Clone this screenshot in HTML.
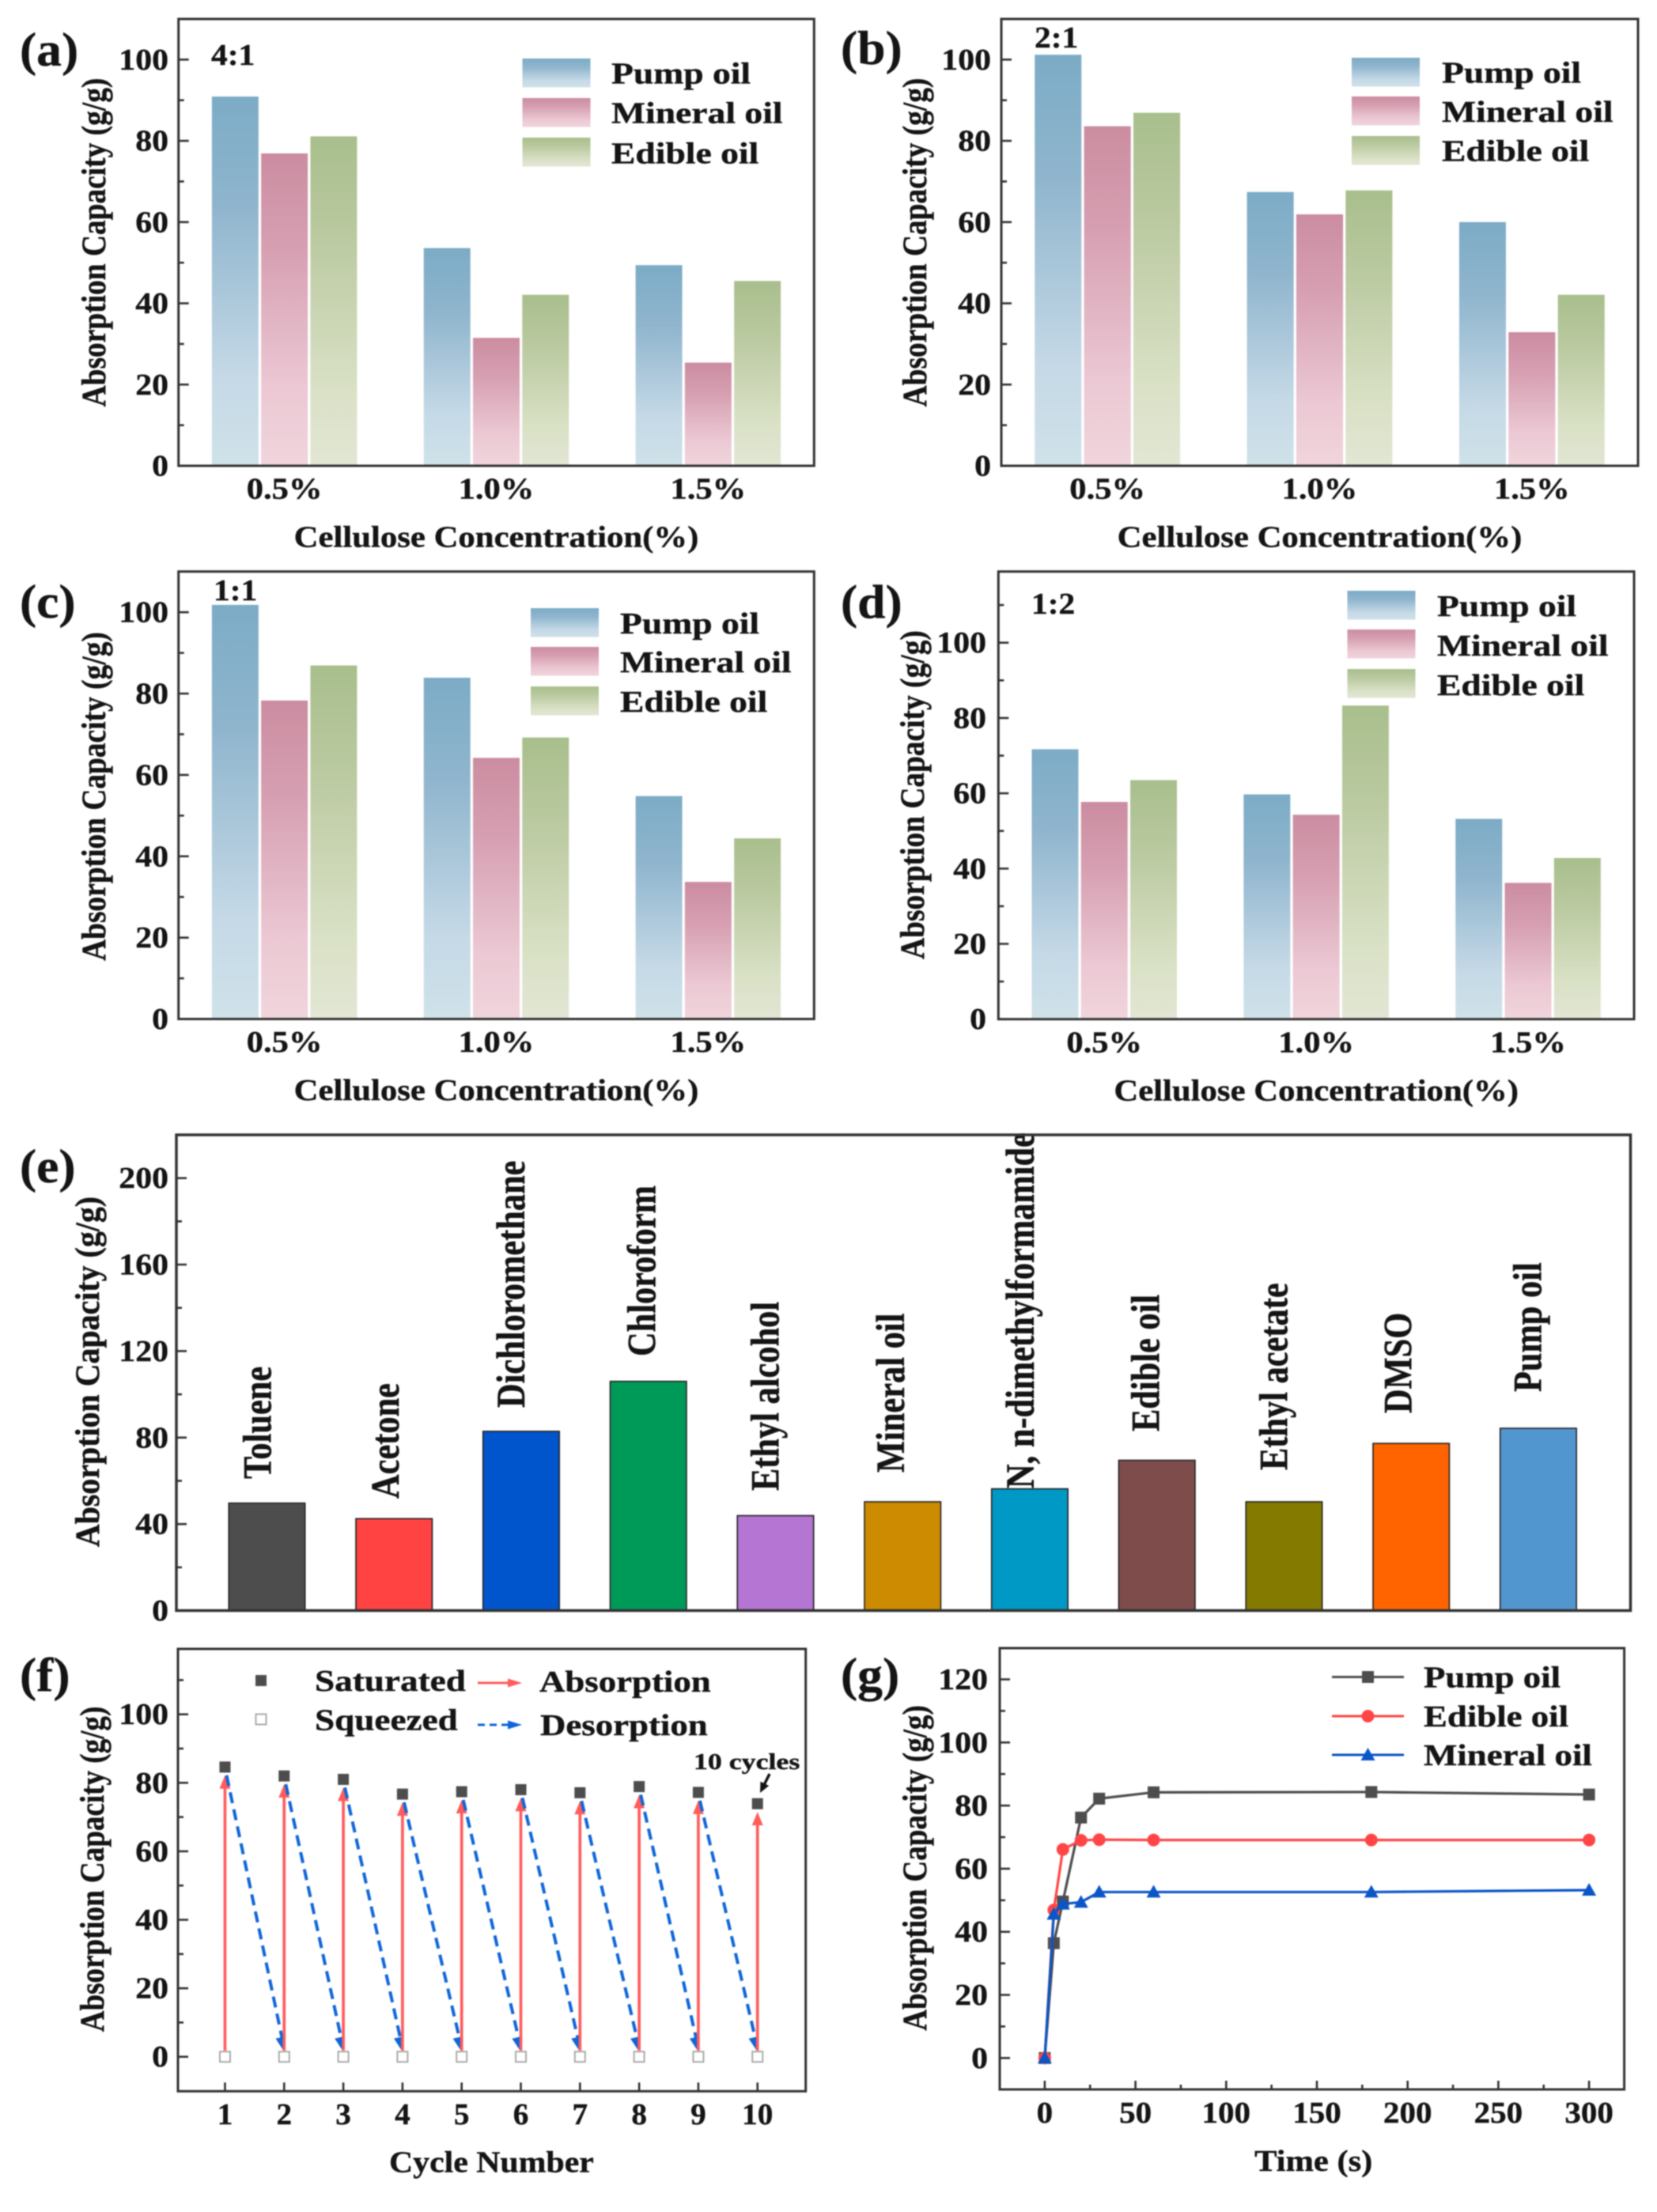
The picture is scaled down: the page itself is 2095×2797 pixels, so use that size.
<!DOCTYPE html>
<html lang="en">
<head>
<meta charset="utf-8">
<title>Absorption capacity charts</title>
<style>
html,body{margin:0;padding:0;background:#fff;}
svg{display:block;}
text{font-family:"Liberation Serif",serif;font-weight:bold;fill:#141414;stroke:#141414;stroke-width:0.4px;}
</style>
</head>
<body>
<svg id="figure" xmlns="http://www.w3.org/2000/svg" width="2095" height="2797" viewBox="0 0 2095 2797" style="filter:blur(0.7px)">
<defs>
<linearGradient id="grad-pump" x1="0" y1="0" x2="0" y2="1"><stop offset="0" stop-color="#7CABC6"/><stop offset="0.3" stop-color="#8FB5CD"/><stop offset="0.75" stop-color="#C4D8E6"/><stop offset="1" stop-color="#CFE2E9"/></linearGradient>
<linearGradient id="grad-mineral" x1="0" y1="0" x2="0" y2="1"><stop offset="0" stop-color="#CB8CA0"/><stop offset="0.3" stop-color="#D69FB1"/><stop offset="0.75" stop-color="#EBC8D3"/><stop offset="1" stop-color="#F0D4DC"/></linearGradient>
<linearGradient id="grad-edible" x1="0" y1="0" x2="0" y2="1"><stop offset="0" stop-color="#A8BE8C"/><stop offset="0.3" stop-color="#BAC9A0"/><stop offset="0.75" stop-color="#D8E0C4"/><stop offset="1" stop-color="#E2E6D4"/></linearGradient>
</defs>
</svg>
<script>
// ---------- chart data ----------
const concentrations = ['0.5%', '1.0%', '1.5%'];
const oilNames = ['Pump oil', 'Mineral oil', 'Edible oil'];
const barTicks = [0, 20, 40, 60, 80, 100];
const barMinorTicks = [10, 30, 50, 70, 90];
const barMinorTicksD = [10, 30, 50, 70, 90, 110];

const panelAPump = [90.9, 53.6, 49.4];
const panelAMineral = [76.9, 31.5, 25.4];
const panelAEdible = [81.1, 42.1, 45.5];

const panelBPump = [101.2, 67.4, 60.0];
const panelBMineral = [83.6, 61.9, 32.9];
const panelBEdible = [86.9, 67.8, 42.1];

const panelCPump = [101.8, 83.9, 54.8];
const panelCMineral = [78.3, 64.2, 33.7];
const panelCEdible = [86.9, 69.2, 44.4];

const panelDPump = [71.7, 59.7, 53.2];
const panelDMineral = [57.7, 54.3, 36.2];
const panelDEdible = [63.5, 83.3, 42.8];

const solvents = ['Toluene', 'Acetone', 'Dichloromethane', 'Chloroform', 'Ethyl alcohol', 'Mineral oil', 'N, n-dimethylformamide', 'Edible oil', 'Ethyl acetate', 'DMSO', 'Pump oil'];
const solventValues = [49.7, 42.5, 82.9, 106, 43.9, 50.3, 56.3, 69.5, 50.3, 77.3, 84.3];
const solventColors = ['#4d4d4d', '#ff4343', '#0055cc', '#009a58', '#b476d2', '#cc8b00', '#0098c4', '#7f4c4c', '#857a00', '#ff6400', '#5296d0'];
const solventTicks = [0, 40, 80, 120, 160, 200];
const solventMinorTicks = [20, 60, 100, 140, 180];

const cycleNumbers = [1, 2, 3, 4, 5, 6, 7, 8, 9, 10];
const saturatedValues = [84.6, 82, 81, 76.7, 77.4, 78, 77.1, 78.9, 77.2, 73.9];
const squeezedValues = [0, 0, 0, 0, 0, 0, 0, 0, 0, 0];
const cycleYTicks = [0, 20, 40, 60, 80, 100];
const cycleYMinorTicks = [10, 30, 50, 70, 90, 110];

const timeValues = [0, 5, 10, 20, 30, 60, 180, 300];
const timePump = [0, 36.4, 49.6, 76.2, 82.2, 84.2, 84.3, 83.5];
const timeEdible = [0, 46.9, 66.1, 69, 69.2, 69.1, 69.1, 69.1];
const timeMineral = [0, 45.6, 48.8, 49.4, 52.6, 52.6, 52.6, 53.2];
const timeXTicks = [0, 50, 100, 150, 200, 250, 300];
const timeXMinorTicks = [25, 75, 125, 175, 225, 275];
const timeYTicks = [0, 20, 40, 60, 80, 100, 120];
const timeYMinorTicks = [10, 30, 50, 70, 90, 110];

// ---------- helpers ----------
const NS = 'http://www.w3.org/2000/svg';
const figure = document.getElementById('figure');

function linear(d0, d1, r0, r1) {
  return function (v) { return r0 + (v - d0) * (r1 - r0) / (d1 - d0); };
}
function make(parent, tag, props) {
  const el = document.createElementNS(NS, tag);
  for (const k in props) el.setAttribute(k, props[k]);
  parent.appendChild(el);
  return el;
}
function panelGroup(name) {
  const g = make(figure, 'g', {});
  
  
  return g;
}
function label(parent, name, str, x, y, size, sx, sy, anchor, rot) {
  const t = make(parent, 'text', {
    'font-size': size,
    'text-anchor': anchor || 'start',
    transform: 'translate(' + x + ',' + y + ') rotate(' + (rot || 0) + ') scale(' + sx + ',' + sy + ')'
  });
  t.textContent = str;
  
  
  return t;
}
function tickLine(parent, name, x1, y1, x2, y2) {
  const l = make(parent, 'line', { x1: x1, y1: y1, x2: x2, y2: y2, stroke: '#333', 'stroke-width': 2.6 });
  
  
}
function frame(parent, g) {
  const r = make(parent, 'rect', { x: g.L, y: g.T, width: g.R - g.L, height: g.B - g.T, fill: 'none', stroke: '#333', 'stroke-width': 3 });
  
  
}
function yAxis(parent, g, y, ticks, minor, labelRight) {
  ticks.forEach(function (v) {
    tickLine(parent, 'y-tick-' + v, g.L, y(v), g.L + 13, y(v));
    label(parent, 'y-tick-label-' + v, String(v), labelRight, y(v) + 12.5, 38, 1.1, 1, 'end');
  });
  minor.forEach(function (v) {
    tickLine(parent, 'y-minor-tick-' + v, g.L, y(v), g.L + 7, y(v));
  });
}
function drawBarPanel(p) {
  const root = panelGroup(p.name);
  const g = p.geom;
  const x = linear(-0.5, 2.5, g.L, g.R);
  const y = linear(0, p.ymax, g.B, g.T);
  const band = x(1) - x(0);
  const series = [p.pump, p.mineral, p.edible];
  const grads = ['url(#grad-pump)', 'url(#grad-mineral)', 'url(#grad-edible)'];
  const keys = ['pump', 'mineral', 'edible'];
  series.forEach(function (vals, s) {
    vals.forEach(function (v, i) {
      const w = band * 0.22;
      const cx = x(i) + (s - 1) * band * 0.2325;
      const bar = make(root, 'rect', { x: cx - w / 2, y: y(v), width: w, height: y(0) - y(v), fill: grads[s] });
      
      
    });
  });
  frame(root, g);
  yAxis(root, g, y, barTicks, p.minor, p.tickRight);
  concentrations.forEach(function (c, i) {
    label(root, 'x-tick-label-' + c, c, x(i), g.B + 41.7, 38, 1.12, 1, 'middle');
  });
  label(root, 'x-axis-title', 'Cellulose Concentration(%)', x(1), g.B + 102.7, 38, 1.125, 1, 'middle');
  label(root, 'y-axis-title', 'Absorption Capacity (g/g)', p.yTitleX, p.yTitleY, 38, 0.985, 1.15, 'middle', -90);
  label(root, 'panel-letter', p.letter, p.letterX, p.letterY, 60, 1.06, 1);
  label(root, 'ratio-label', p.ratio, p.ratioX, p.ratioY, 38, 1.09, 1);
  p.legend.swatchY.forEach(function (sy, i) {
    const sw = make(root, 'rect', { x: p.legend.x, y: sy, width: 86, height: 36.5, fill: grads[i] });
    
    
    label(root, 'legend-label-' + keys[i], oilNames[i], p.legend.textX, p.legend.baseY[i], 38, 1.2, 1);
  });
}

// ---------- panels a-d ----------
drawBarPanel({
  name: 'panel-a', letter: '(a)', ratio: '4:1', pump: panelAPump, mineral: panelAMineral, edible: panelAEdible,
  ymax: 110, minor: barMinorTicks, geom: { L: 225.7, R: 1029.3, T: 24, B: 589 }, tickRight: 213,
  yTitleX: 133, yTitleY: 306.5, letterX: 25, letterY: 83, ratioX: 267, ratioY: 82,
  legend: { x: 660.5, textX: 773, swatchY: [74, 124, 174], baseY: [105.5, 155.5, 206.5] }
});
drawBarPanel({
  name: 'panel-b', letter: '(b)', ratio: '2:1', pump: panelBPump, mineral: panelBMineral, edible: panelBEdible,
  ymax: 110, minor: barMinorTicks, geom: { L: 1266, R: 2071, T: 24, B: 589 }, tickRight: 1253,
  yTitleX: 1171, yTitleY: 306.5, letterX: 1063, letterY: 81, ratioX: 1308, ratioY: 60,
  legend: { x: 1709, textX: 1823, swatchY: [73, 122, 172], baseY: [104.5, 154, 203.5] }
});
drawBarPanel({
  name: 'panel-c', letter: '(c)', ratio: '1:1', pump: panelCPump, mineral: panelCMineral, edible: panelCEdible,
  ymax: 110, minor: barMinorTicks, geom: { L: 225.7, R: 1029.3, T: 722.7, B: 1288.5 }, tickRight: 213,
  yTitleX: 133, yTitleY: 1007, letterX: 25, letterY: 781, ratioX: 270, ratioY: 759,
  legend: { x: 671, textX: 784, swatchY: [769, 818, 868], baseY: [801, 850, 900] }
});
drawBarPanel({
  name: 'panel-d', letter: '(d)', ratio: '1:2', pump: panelDPump, mineral: panelDMineral, edible: panelDEdible,
  ymax: 118.9, minor: barMinorTicksD, geom: { L: 1262.3, R: 2066, T: 722.7, B: 1288.7 }, tickRight: 1247,
  yTitleX: 1168, yTitleY: 1005, letterX: 1063, letterY: 781.7, ratioX: 1304, ratioY: 776,
  legend: { x: 1703.5, textX: 1817, swatchY: [747, 796, 846], baseY: [779, 829, 879] }
});

// ---------- panel e ----------
(function () {
  const root = panelGroup('panel-e');
  const g = { L: 223, R: 2061.5, T: 1435, B: 2036.5 };
  const x = linear(-0.712, 10.725, g.L, g.R);
  const y = linear(0, 220, g.B, g.T);
  const w = (x(1) - x(0)) * 0.6;
  const labelShift = [5, 6, 4, 9, 4, 2, 5, 3, 4, 0.5, 3.5];
  const labelStart = [1870, 1895, 1780, 1715, 1885, 1862, 1882, 1810, 1859, 1787, 1760];
  solventValues.forEach(function (v, i) {
    const bar = make(root, 'rect', { x: x(i) - w / 2, y: y(v), width: w, height: y(0) - y(v), fill: solventColors[i], stroke: '#222', 'stroke-width': 1.6 });
    
    
    label(root, 'bar-label-' + solvents[i].toLowerCase().replace(/[^a-z]+/g, '-'), solvents[i], x(i) + labelShift[i], labelStart[i], 42, 1.01, 1.22, 'start', -90);
  });
  const fr = make(root, 'rect', { x: g.L, y: g.T, width: g.R - g.L, height: g.B - g.T, fill: 'none', stroke: '#333', 'stroke-width': 3.5 });
  
  
  yAxis(root, g, y, solventTicks, solventMinorTicks, 213);
  label(root, 'y-axis-title', 'Absorption Capacity (g/g)', 125, 1734.5, 38, 1.05, 1.15, 'middle', -90);
  label(root, 'panel-letter', '(e)', 25, 1495, 60, 1.06, 1);
})();

// ---------- panel f ----------
function arrowHead(parent, name, x1, y1, x2, y2, color, len, half) {
  const d = Math.hypot(x2 - x1, y2 - y1);
  const ux = (x2 - x1) / d;
  const uy = (y2 - y1) / d;
  const bx = x2 - ux * len;
  const by = y2 - uy * len;
  const pts = [x2 + ',' + y2, (bx - uy * half) + ',' + (by + ux * half), (bx + uy * half) + ',' + (by - ux * half)].join(' ');
  const h = make(parent, 'polygon', { points: pts, fill: color });
  
  
}
(function () {
  const root = panelGroup('panel-f');
  const g = { L: 225, R: 1018.7, T: 2085, B: 2644.3 };
  const x = linear(0.205, 10.815, g.L, g.R);
  const y = linear(-10.07, 119.1, g.B, g.T);
  const red = '#ff5c5c';
  const blue = '#0f66d8';
  cycleNumbers.forEach(function (c, i) {
    const tipY = y(saturatedValues[i] - 2.4);
    const up = make(root, 'line', { x1: x(c), y1: y(1.8), x2: x(c), y2: tipY + 8, stroke: red, 'stroke-width': 3.7 });
    
    
    arrowHead(root, 'absorption-arrowhead-' + c, x(c), y(1.8), x(c), tipY, red, 17, 7);
    if (i < cycleNumbers.length - 1) {
      const sx = x(c) + 2;
      const sy = tipY;
      const ex = x(cycleNumbers[i + 1]) - 1;
      const ey = y(1.8);
      const down = make(root, 'line', { x1: sx, y1: sy, x2: ex, y2: ey - 8, stroke: blue, 'stroke-width': 4, 'stroke-dasharray': '14 8' });
      
      
      arrowHead(root, 'desorption-arrowhead-' + c, sx, sy, ex, ey, blue, 17, 6.5);
    }
  });
  saturatedValues.forEach(function (v, i) {
    const m = make(root, 'rect', { x: x(cycleNumbers[i]) - 7, y: y(v) - 7, width: 14, height: 14, fill: '#4d4d4d' });
    
    
  });
  squeezedValues.forEach(function (v, i) {
    const m = make(root, 'rect', { x: x(cycleNumbers[i]) - 6.5, y: y(v) - 6.5, width: 13, height: 13, fill: '#fff', stroke: '#aaa', 'stroke-width': 2 });
    
    
  });
  frame(root, g);
  yAxis(root, g, y, cycleYTicks, cycleYMinorTicks, 213);
  cycleNumbers.forEach(function (c) {
    tickLine(root, 'x-tick-' + c, x(c), g.B, x(c), g.B - 11);
    label(root, 'x-tick-label-' + c, String(c), x(c), 2686, 38, 1.03, 1, 'middle');
  });
  label(root, 'x-axis-title', 'Cycle Number', 621.4, 2746.5, 38, 1.1, 1, 'middle');
  label(root, 'y-axis-title', 'Absorption Capacity (g/g)', 131, 2363.5, 38, 0.975, 1.15, 'middle', -90);
  label(root, 'panel-letter', '(f)', 25, 2138, 60, 1.06, 1);

  const sk = make(root, 'rect', { x: 323, y: 2118, width: 14, height: 14, fill: '#4d4d4d' });
  
  
  const qk = make(root, 'rect', { x: 323.5, y: 2167.5, width: 13, height: 13, fill: '#fff', stroke: '#aaa', 'stroke-width': 2 });
  
  
  label(root, 'legend-label-saturated', 'Saturated', 398, 2138, 38, 1.19, 1);
  label(root, 'legend-label-squeezed', 'Squeezed', 398, 2187.5, 38, 1.19, 1);
  label(root, 'legend-label-absorption', 'Absorption', 682, 2139, 38, 1.18, 1);
  label(root, 'legend-label-desorption', 'Desorption', 683, 2194, 38, 1.18, 1);
  const la = make(root, 'line', { x1: 604, y1: 2128, x2: 645, y2: 2128, stroke: red, 'stroke-width': 3 });
  
  
  arrowHead(root, 'legend-arrowhead-absorption', 604, 2128, 660, 2128, red, 18, 5.5);
  const ld = make(root, 'line', { x1: 604, y1: 2181, x2: 645, y2: 2181, stroke: blue, 'stroke-width': 3, 'stroke-dasharray': '9 6' });
  
  
  arrowHead(root, 'legend-arrowhead-desorption', 604, 2181, 660, 2181, blue, 18, 5.5);
  label(root, 'cycles-annotation', '10 cycles', 877, 2237, 28, 1.28, 1);
  const pt = make(root, 'line', { x1: 973, y1: 2243, x2: 965, y2: 2259, stroke: '#111', 'stroke-width': 3.5 });
  
  
  arrowHead(root, 'cycles-annotation-arrowhead', 973, 2243, 961, 2267, '#111', 13, 6);
})();

// ---------- panel g ----------
function marker(parent, name, kind, cx, cy, color) {
  let m;
  if (kind === 'square') {
    m = make(parent, 'rect', { x: cx - 7.5, y: cy - 7.5, width: 15, height: 15, fill: color });
  } else if (kind === 'circle') {
    m = make(parent, 'circle', { cx: cx, cy: cy, r: 8, fill: color });
  } else {
    m = make(parent, 'polygon', { points: (cx) + ',' + (cy - 9) + ' ' + (cx + 9) + ',' + (cy + 7) + ' ' + (cx - 9) + ',' + (cy + 7), fill: color });
  }
  
  
}
(function () {
  const root = panelGroup('panel-g');
  const g = { L: 1264, R: 2053.6, T: 2084, B: 2642 };
  const x = linear(-24.8, 319.4, g.L, g.R);
  const y = linear(-9.95, 129.9, g.B, g.T);
  function drawSeries(name, vals, color, kind) {
    const pts = vals.map(function (v, i) { return x(timeValues[i]) + ',' + y(v); }).join(' ');
    const line = make(root, 'polyline', { points: pts, fill: 'none', stroke: color, 'stroke-width': 3.2 });
    
    
    vals.forEach(function (v, i) {
      marker(root, 'point-' + name + '-' + timeValues[i], kind, x(timeValues[i]), y(v), color);
    });
  }
  drawSeries('pump-oil', timePump, '#4d4d4d', 'square');
  drawSeries('edible-oil', timeEdible, '#ff4545', 'circle');
  drawSeries('mineral-oil', timeMineral, '#0a55c8', 'triangle');
  frame(root, g);
  yAxis(root, g, y, timeYTicks, timeYMinorTicks, 1249);
  timeXTicks.forEach(function (v) {
    tickLine(root, 'x-tick-' + v, x(v), g.B, x(v), g.B - 11);
    label(root, 'x-tick-label-' + v, String(v), x(v), 2684, 38, 1.08, 1, 'middle');
  });
  timeXMinorTicks.forEach(function (v) {
    tickLine(root, 'x-minor-tick-' + v, x(v), g.B, x(v), g.B - 6);
  });
  label(root, 'x-axis-title', 'Time (s)', 1660.7, 2745, 38, 1.12, 1, 'middle');
  label(root, 'y-axis-title', 'Absorption Capacity (g/g)', 1171, 2362, 38, 0.975, 1.15, 'middle', -90);
  label(root, 'panel-letter', '(g)', 1063, 2138, 60, 1.06, 1);
  const rows = [
    ['pump-oil', 'Pump oil', '#4d4d4d', 'square', 2120.5, 2133.6],
    ['edible-oil', 'Edible oil', '#ff4545', 'circle', 2170, 2182.8],
    ['mineral-oil', 'Mineral oil', '#0a55c8', 'triangle', 2219, 2232]
  ];
  rows.forEach(function (r) {
    const l = make(root, 'line', { x1: 1684, y1: r[4], x2: 1775, y2: r[4], stroke: r[2], 'stroke-width': 3 });
    
    
    marker(root, 'legend-marker-' + r[0], r[3], 1729.5, r[4], r[2]);
    label(root, 'legend-label-' + r[0], r[1], 1800, r[5], 38, 1.18, 1);
  });
})();
</script>
</body>
</html>
